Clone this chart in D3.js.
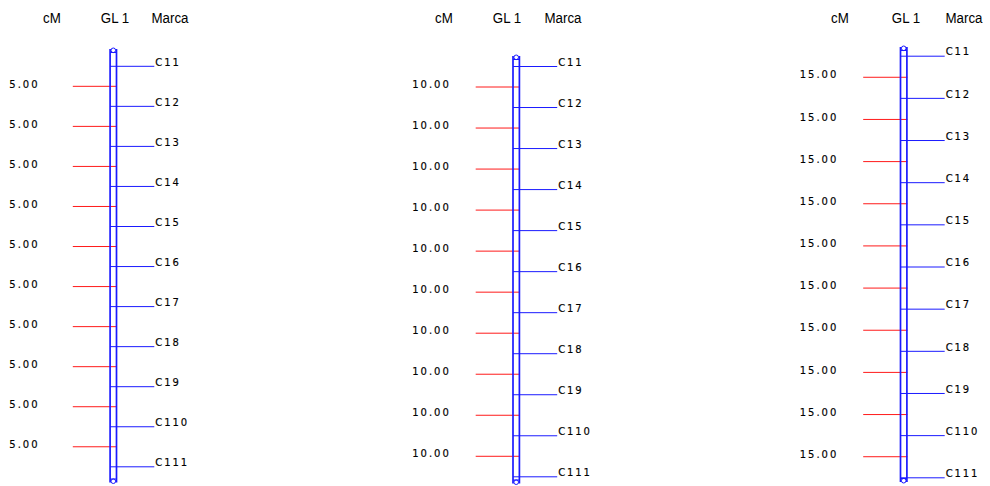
<!DOCTYPE html>
<html>
<head>
<meta charset="utf-8">
<script src="https://cdn.jsdelivr.net/npm/d3@7"></script>
<style>
  html, body { margin: 0; padding: 0; background: #fff; }
  svg { display: block; }
</style>
</head>
<body>
<svg id="chart" width="990" height="486"></svg>
<script>
// ---- data ----
const headers = ["cM", "GL 1", "Marca"];
const markers = ["C11", "C12", "C13", "C14", "C15", "C16", "C17", "C18", "C19", "C110", "C111"];
const intervalsA = [5, 5, 5, 5, 5, 5, 5, 5, 5, 5];
const intervalsB = [10, 10, 10, 10, 10, 10, 10, 10, 10, 10];
const intervalsC = [15, 15, 15, 15, 15, 15, 15, 15, 15, 15];

// ---- layout (per panel) ----
const panels = [
  { intervals: intervalsA, cx: 113.3, y0: 66.3, y1: 466.8, top: 47.5, bottom: 484,
    hdr: [52, 115, 170] },
  { intervals: intervalsB, cx: 516.2, y0: 66.5, y1: 476.8, top: 54.5, bottom: 485,
    hdr: [444, 507, 563] },
  { intervals: intervalsC, cx: 903.7, y0: 56.2, y1: 477.8, top: 45.5, bottom: 483.5,
    hdr: [840, 906, 964] }
];

const svg = d3.select("#chart");
const BLUE = "#1a1aff";
const RED = "#ff1a1a";
const halfW = 3.2;

panels.forEach(p => {
  const g = svg.append("g");
  const cum = [0];
  p.intervals.forEach(v => cum.push(cum[cum.length - 1] + v));
  const total = cum[cum.length - 1];
  const y = d3.scaleLinear().domain([0, total]).range([p.y0, p.y1]);
  const xL = p.cx - halfW, xR = p.cx + halfW;

  // headers
  headers.forEach((h, i) => {
    g.append("text")
      .attr("transform", `translate(${p.hdr[i]},22.7) scale(0.86,1)`)
      .attr("text-anchor", "middle")
      .attr("font-family", "'Liberation Sans', Arial, sans-serif")
      .attr("font-size", 15.5)
      .attr("fill", "#000")
      .text(h);
  });

  // interval (red) lines at midpoints
  const mids = p.intervals.map((v, i) => ({ v, pos: cum[i] + v / 2 }));
  g.selectAll("line.red").data(mids).join("line")
    .attr("class", "red")
    .attr("x1", p.cx - 40.5).attr("x2", xR + 0.5)
    .attr("y1", d => y(d.pos)).attr("y2", d => y(d.pos))
    .attr("stroke", RED).attr("stroke-width", 1);
  g.selectAll("text.cm").data(mids).join("text")
    .attr("class", "cm")
    .attr("x", p.cx - 104)
    .attr("y", d => y(d.pos) + 1.2)
    .attr("font-family", "'DejaVu Sans', sans-serif")
    .attr("font-size", 10)
    .attr("letter-spacing", "2px")
    .attr("stroke", "#000").attr("stroke-width", 0.15)
    .attr("fill", "#000")
    .text(d => d.v.toFixed(2));

  // chromosome bar
  [xL, xR].forEach(x => {
    g.append("line")
      .attr("x1", x).attr("x2", x)
      .attr("y1", p.top + 1.5).attr("y2", p.bottom - 1.5)
      .attr("stroke", BLUE).attr("stroke-width", 1.7);
  });
  [p.top + 5, p.bottom - 5].forEach(yy => {
    g.append("line")
      .attr("x1", xL).attr("x2", xR)
      .attr("y1", yy).attr("y2", yy)
      .attr("stroke", BLUE).attr("stroke-width", 1);
  });
  [p.top + 2.8, p.bottom - 2.8].forEach(yy => {
    g.append("ellipse")
      .attr("cx", p.cx).attr("cy", yy)
      .attr("rx", 2.3).attr("ry", 2.3)
      .attr("fill", "none")
      .attr("stroke", BLUE).attr("stroke-width", 1);
  });

  // marker (blue) lines
  const mk = markers.map((m, i) => ({ m, pos: cum[i] }));
  g.selectAll("line.mk").data(mk).join("line")
    .attr("class", "mk")
    .attr("x1", xL).attr("x2", p.cx + 41)
    .attr("y1", d => y(d.pos)).attr("y2", d => y(d.pos))
    .attr("stroke", BLUE).attr("stroke-width", 1);
  g.selectAll("text.mk").data(mk).join("text")
    .attr("class", "mk")
    .attr("x", p.cx + 42)
    .attr("y", d => y(d.pos) - 0.8)
    .attr("font-family", "'DejaVu Sans', sans-serif")
    .attr("font-size", 10)
    .attr("letter-spacing", "1.9px")
    .attr("stroke", "#000").attr("stroke-width", 0.15)
    .attr("fill", "#000")
    .text(d => d.m);
});
</script>
</body>
</html>
